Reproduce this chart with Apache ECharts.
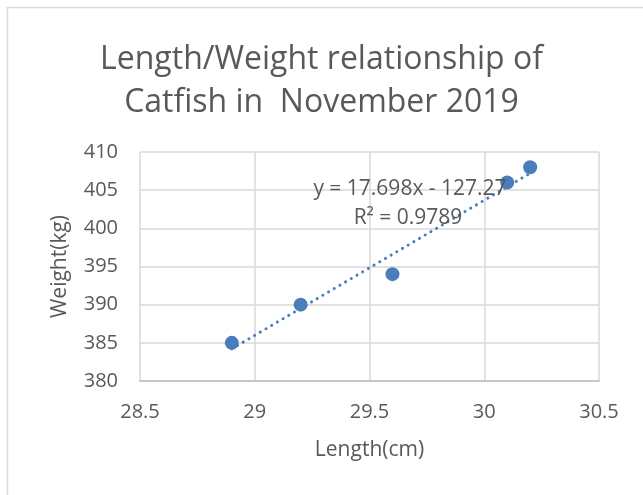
<!DOCTYPE html>
<html>
<head>
<meta charset="utf-8">
<script src="https://cdn.jsdelivr.net/npm/echarts@6/dist/echarts.min.js"></script>
<style>
html,body{margin:0;padding:0;background:#fff;}
#chart{width:643px;height:495px;}
</style>
</head>
<body>
<div id="chart"></div>
<script>
// 数据
var lengthCm = [28.9, 29.2, 29.6, 30.1, 30.2];
var weightKg = [385, 390, 394, 406, 408];
var titleLines = ['Length/Weight relationship of', 'Catfish in  November 2019'];

var textColor = '#595959';
var dotColor = '#4a7ebb';
var font = 'Open Sans';

/** 线性回归 **/
function linearFit(xs, ys){
    var n = xs.length, mx = 0, my = 0;
    for (var i = 0; i < n; i++) { mx += xs[i]; my += ys[i]; }
    mx /= n; my /= n;
    var sxy = 0, sxx = 0, syy = 0;
    for (var j = 0; j < n; j++) {
        sxy += (xs[j] - mx) * (ys[j] - my);
        sxx += (xs[j] - mx) * (xs[j] - mx);
        syy += (ys[j] - my) * (ys[j] - my);
    }
    var slope = sxy / sxx;
    return {slope: slope, intercept: my - slope * mx, r2: sxy * sxy / (sxx * syy)};
}

var fit = linearFit(lengthCm, weightKg);
var xMin = Math.min.apply(null, lengthCm), xMax = Math.max.apply(null, lengthCm);
var trendData = [[xMin, fit.slope * xMin + fit.intercept], [xMax, fit.slope * xMax + fit.intercept]];
var points = lengthCm.map(function(x, i){ return [x, weightKg[i]]; });

var eqText = 'y = ' + fit.slope.toFixed(3) + 'x - ' + Math.abs(fit.intercept).toFixed(2);
var r2Text = 'R² = ' + fit.r2.toFixed(4);

var option = {
    animation: false,
    title: {
        text: titleLines.join('\n'),
        left: 'center',
        top: 33,
        textStyle: {
            fontFamily: font,
            fontSize: 32,
            fontWeight: 'normal',
            color: textColor,
            lineHeight: 43
        }
    },
    grid: {left: 140, right: 44, top: 152, bottom: 114},
    xAxis: {
        type: 'value',
        min: 28.5, max: 30.5, interval: 0.5,
        name: 'Length(cm)',
        nameLocation: 'middle',
        nameGap: 59,
        nameTextStyle: {fontFamily: font, fontSize: 21, color: textColor},
        axisLine: {show: true, lineStyle: {color: '#bfbfbf', width: 1.5}},
        axisTick: {show: false},
        axisLabel: {fontFamily: font, fontSize: 20, color: textColor, margin: 21},
        splitLine: {show: true, lineStyle: {color: '#d9d9d9', width: 1.5}}
    },
    yAxis: {
        type: 'value',
        min: 380, max: 410, interval: 5,
        name: 'Weight(kg)',
        nameLocation: 'middle',
        nameGap: 69,
        nameTextStyle: {fontFamily: font, fontSize: 21, color: textColor},
        axisLine: {show: false},
        axisTick: {show: false},
        axisLabel: {fontFamily: font, fontSize: 20, color: textColor, margin: 22},
        splitLine: {show: true, lineStyle: {color: '#d9d9d9', width: 1.5}}
    },
    graphic: [
        {
            type: 'rect', silent: true, z: -1,
            shape: {x: 7.5, y: 7.5, width: 660, height: 520},
            style: {fill: 'none', stroke: '#d9d9d9', lineWidth: 1.5}
        },
        {
            type: 'text', x: 410, y: 189, z: 100,
            style: {text: eqText, fontFamily: font, fontSize: 21, fill: textColor, align: 'center', verticalAlign: 'middle'}
        },
        {
            type: 'text', x: 408, y: 218, z: 100,
            style: {text: r2Text, fontFamily: font, fontSize: 21, fill: textColor, align: 'center', verticalAlign: 'middle'}
        }
    ],
    series: [
        {
            name: 'trend',
            type: 'line',
            data: trendData,
            symbol: 'none',
            z: 2,
            lineStyle: {color: dotColor, width: 3, type: [0.1, 6.5], cap: 'round'}
        },
        {
            name: 'catfish',
            type: 'scatter',
            data: points,
            symbolSize: 14,
            z: 3,
            itemStyle: {color: dotColor, opacity: 1}
        }
    ]
};

var myEcharts = echarts.init(document.getElementById('chart'));
myEcharts.setOption(option);
</script>
</body>
</html>
